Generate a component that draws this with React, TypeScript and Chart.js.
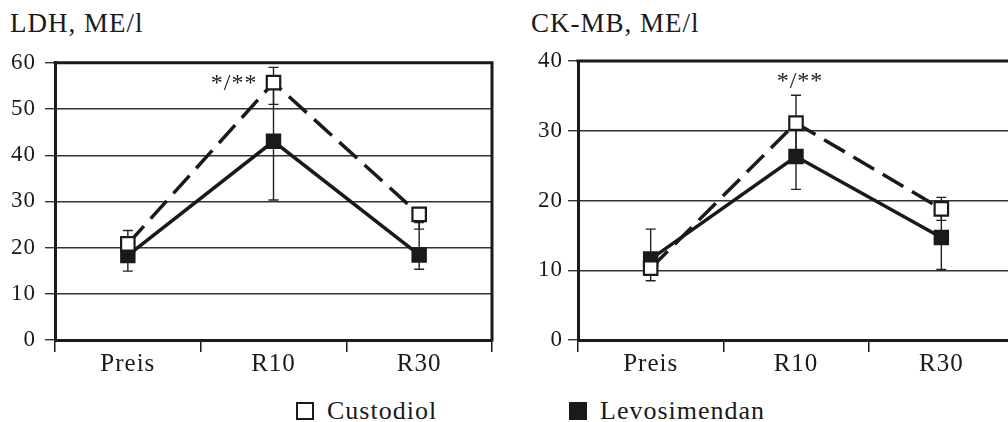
import React, { useEffect, useRef } from "react";
import { Chart, registerables } from "chart.js";

Chart.register(...registerables);

// ---------- data ----------
const categories = ["Preis", "R10", "R30"];
const seriesNames = ["Custodiol", "Levosimendan"];

const ldhTitle = "LDH, ME/l";
const ldhMax = 60;
const ldhCustodiol = [20.8, 55.7, 27.2];
const ldhCustodiolHigh = [23.7, 59.0, 28.0];
const ldhCustodiolLow = [17.9, 51.0, 24.0];
const ldhLevosimendan = [18.3, 43.0, 18.4];
const ldhLevosimendanHigh = [21.7, 55.7, 25.4];
const ldhLevosimendanLow = [14.9, 30.3, 15.3];
const ldhAnnotation = { text: "*/**", index: 1, value: 54.2 };

const ckTitle = "CK-MB, ME/l";
const ckMax = 40;
const ckCustodiol = [10.3, 31.1, 18.8];
const ckCustodiolHigh = [12.0, 35.1, 20.45];
const ckCustodiolLow = [8.5, 27.1, 17.15];
const ckLevosimendan = [11.6, 26.3, 14.7];
const ckLevosimendanHigh = [15.9, 31.0, 19.3];
const ckLevosimendanLow = [10.0, 21.6, 10.1];
const ckAnnotation = { text: "*/**", index: 1, value: 36.1 };

const yStep = 10;

// ---------- styles ----------
const FONT = "'Liberation Serif', 'Times New Roman', serif";
const INK = "#1a1a1a";

const spacingPlugin = {
  id: "spacing",
  beforeDraw(chart: any) {
    try {
      (chart.ctx as any).letterSpacing = "1px";
    } catch (e) {}
  },
};

const framePlugin = {
  id: "frame",
  beforeDatasetsDraw(chart: any) {
    const { ctx, chartArea } = chart;
    ctx.save();
    ctx.strokeStyle = INK;
    ctx.lineWidth = 3;
    ctx.beginPath();
    ctx.moveTo(chartArea.left - 1.5, chartArea.top);
    ctx.lineTo(chartArea.right, chartArea.top);
    ctx.lineTo(chartArea.right, chartArea.bottom + 1.5);
    ctx.stroke();
    ctx.restore();
  },
};

const errorBarPlugin = {
  id: "errorBars",
  beforeDatasetsDraw(chart: any, _args: any, opts: any) {
    const { ctx } = chart;
    const yScale = chart.scales.y;
    ctx.save();
    ctx.strokeStyle = "#222222";
    ctx.lineWidth = 1.4;
    (opts.high || []).forEach((highs: number[], di: number) => {
      const lows: number[] = opts.low[di];
      const meta = chart.getDatasetMeta(di);
      meta.data.forEach((pt: any, i: number) => {
        const x = pt.x;
        const yh = yScale.getPixelForValue(highs[i]);
        const yl = yScale.getPixelForValue(lows[i]);
        ctx.beginPath();
        ctx.moveTo(x, yh);
        ctx.lineTo(x, yl);
        ctx.moveTo(x - 5, yh);
        ctx.lineTo(x + 5, yh);
        ctx.moveTo(x - 5, yl);
        ctx.lineTo(x + 5, yl);
        ctx.stroke();
      });
    });
    ctx.restore();
  },
};

const annotationPlugin = {
  id: "sigNote",
  afterDatasetsDraw(chart: any, _args: any, opts: any) {
    if (!opts || !opts.text) return;
    const { ctx } = chart;
    const x = chart.scales.x.getPixelForValue(opts.index) + opts.dx;
    const y = chart.scales.y.getPixelForValue(opts.value);
    ctx.save();
    ctx.fillStyle = INK;
    ctx.font = `24px ${FONT}`;
    ctx.textAlign = opts.align;
    ctx.textBaseline = "alphabetic";
    ctx.fillText(opts.text, x, y);
    ctx.restore();
  },
};

type PanelProps = {
  left: number;
  top: number;
  width: number;
  height: number;
  yAxisWidth: number;
  padRight: number;
  padTop: number;
  yTickPadding: number;
  yMax: number;
  custodiol: number[];
  custodiolHigh: number[];
  custodiolLow: number[];
  levosimendan: number[];
  levosimendanHigh: number[];
  levosimendanLow: number[];
  annotation: { text: string; index: number; value: number };
  annDx: number;
  annAlign: string;
};

function Panel(p: PanelProps) {
  const ref = useRef<HTMLCanvasElement>(null);
  useEffect(() => {
    const chart = new Chart(ref.current as HTMLCanvasElement, {
      type: "line",
      data: {
        labels: categories,
        datasets: [
          {
            label: seriesNames[0],
            data: p.custodiol,
            borderColor: INK,
            borderWidth: 3.5,
            borderDash: [24, 10],
            pointStyle: "rect",
            pointRadius: 9.5,
            pointBorderWidth: 2.2,
            pointBorderColor: INK,
            pointBackgroundColor: "#ffffff",
            tension: 0,
            fill: false,
          },
          {
            label: seriesNames[1],
            data: p.levosimendan,
            borderColor: INK,
            borderWidth: 3.5,
            pointStyle: "rect",
            pointRadius: 9.5,
            pointBorderWidth: 2,
            pointBorderColor: INK,
            pointBackgroundColor: INK,
            tension: 0,
            fill: false,
          },
        ],
      },
      options: {
        animation: false,
        responsive: false,
        events: [],
        layout: { padding: { top: p.padTop, right: p.padRight, left: 0, bottom: 0 } },
        plugins: {
          legend: { display: false },
          tooltip: { enabled: false },
          title: { display: false },
          errorBars: {
            high: [p.custodiolHigh, p.levosimendanHigh],
            low: [p.custodiolLow, p.levosimendanLow],
          },
          sigNote: {
            text: p.annotation.text,
            index: p.annotation.index,
            value: p.annotation.value,
            dx: p.annDx,
            align: p.annAlign,
          },
        } as any,
        scales: {
          x: {
            type: "category",
            offset: true,
            ticks: {
              font: { family: FONT, size: 25 },
              color: INK,
              padding: -3,
              maxRotation: 0,
              autoSkip: false,
            },
            grid: {
              display: true,
              drawOnChartArea: false,
              drawTicks: true,
              tickLength: 12,
              color: INK,
              lineWidth: 1.5,
              offset: true,
            },
            border: { display: true, width: 3, color: INK },
            afterFit: (s: any) => {
              s.height = 40;
            },
          },
          y: {
            min: 0,
            max: p.yMax,
            ticks: {
              stepSize: yStep,
              font: { family: FONT, size: 23 },
              color: INK,
              padding: p.yTickPadding,
            },
            grid: {
              color: "#333333",
              lineWidth: 1.4,
              drawTicks: true,
              tickLength: 10,
            },
            border: { display: true, width: 3, color: INK },
            afterFit: (s: any) => {
              s.width = p.yAxisWidth;
            },
          },
        },
      } as any,
      plugins: [spacingPlugin, framePlugin, errorBarPlugin, annotationPlugin],
    });
    return () => chart.destroy();
  }, []);
  return (
    <canvas
      ref={ref}
      width={p.width}
      height={p.height}
      style={{ position: "absolute", left: p.left, top: p.top, width: p.width, height: p.height }}
    />
  );
}

const textStyle: React.CSSProperties = {
  position: "absolute",
  fontFamily: FONT,
  color: INK,
  letterSpacing: "1px",
  whiteSpace: "nowrap",
  lineHeight: 1,
};

export default function App() {
  return (
    <div
      style={{
        position: "absolute",
        left: 0,
        top: 0,
        width: 1008,
        height: 422,
        overflow: "hidden",
        background: "#ffffff",
      }}
    >
      <div style={{ ...textStyle, left: 10, top: 10, fontSize: 27 }}>{ldhTitle}</div>
      <div style={{ ...textStyle, left: 531, top: 10, fontSize: 27 }}>{ckTitle}</div>
      <Panel
        left={0}
        top={40}
        width={510}
        height={340}
        yAxisWidth={55}
        padRight={18}
        padTop={21}
        yTickPadding={9}
        yMax={ldhMax}
        custodiol={ldhCustodiol}
        custodiolHigh={ldhCustodiolHigh}
        custodiolLow={ldhCustodiolLow}
        levosimendan={ldhLevosimendan}
        levosimendanHigh={ldhLevosimendanHigh}
        levosimendanLow={ldhLevosimendanLow}
        annotation={ldhAnnotation}
        annDx={-16}
        annAlign="right"
      />
      <Panel
        left={520}
        top={40}
        width={520}
        height={340}
        yAxisWidth={58}
        padRight={26}
        padTop={21}
        yTickPadding={5}
        yMax={ckMax}
        custodiol={ckCustodiol}
        custodiolHigh={ckCustodiolHigh}
        custodiolLow={ckCustodiolLow}
        levosimendan={ckLevosimendan}
        levosimendanHigh={ckLevosimendanHigh}
        levosimendanLow={ckLevosimendanLow}
        annotation={ckAnnotation}
        annDx={4}
        annAlign="center"
      />
      <div
        style={{
          position: "absolute",
          left: 296,
          top: 402,
          width: 18,
          height: 18,
          boxSizing: "border-box",
          border: `2px solid ${INK}`,
          background: "#fff",
        }}
      />
      <div style={{ ...textStyle, left: 327, top: 398, fontSize: 26 }}>{seriesNames[0]}</div>
      <div
        style={{
          position: "absolute",
          left: 569,
          top: 402,
          width: 18,
          height: 18,
          background: INK,
        }}
      />
      <div style={{ ...textStyle, left: 600, top: 398, fontSize: 26 }}>{seriesNames[1]}</div>
    </div>
  );
}
